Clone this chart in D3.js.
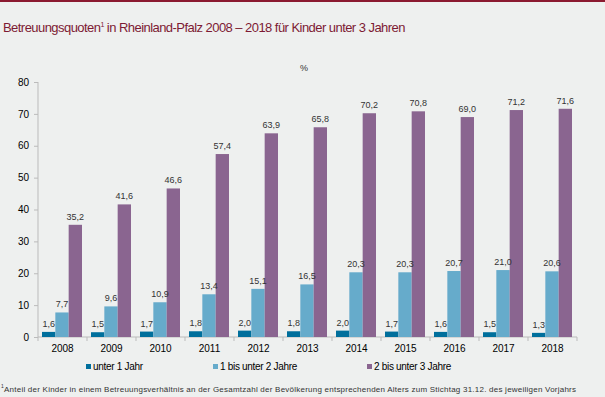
<!DOCTYPE html>
<html>
<head>
<meta charset="utf-8">
<script src="https://cdn.jsdelivr.net/npm/d3@7"></script>
<style>
  body { margin: 0; background: #eef0ef; }
  svg { display: block; font-family: "Liberation Sans", Arial, sans-serif; }
  .tick text { font-size: 10px; fill: #000; }
  .val { font-size: 9px; fill: #333; text-anchor: middle; }
</style>
</head>
<body>
<svg id="chart" width="605" height="397"></svg>
<script>
var years = ["2008","2009","2010","2011","2012","2013","2014","2015","2016","2017","2018"];
var series = ["unter 1 Jahr", "1 bis unter 2 Jahre", "2 bis unter 3 Jahre"];
var under1 = [1.6, 1.5, 1.7, 1.8, 2.0, 1.8, 2.0, 1.7, 1.6, 1.5, 1.3];
var one2two = [7.7, 9.6, 10.9, 13.4, 15.1, 16.5, 20.3, 20.3, 20.7, 21.0, 20.6];
var two2three = [35.2, 41.6, 46.6, 57.4, 63.9, 65.8, 70.2, 70.8, 69.0, 71.2, 71.6];
var yTicks = [0, 10, 20, 30, 40, 50, 60, 70, 80];
var colors = ["#006f9c", "#66abcb", "#8a6590"];

var svg = d3.select("#chart");
var fmt = function(v) { return d3.format(".1f")(v).replace(".", ","); };

// top strip
svg.append("rect").attr("x", 0).attr("y", 0).attr("width", 605).attr("height", 2).style("fill", "#8b1a30");

svg.append("text")
    .attr("x", 3)
    .attr("y", 32)
    .style("font-size", "13px")
    .style("fill", "#7d1a33")
    .style("letter-spacing", "-0.55px")
    .html("Betreuungsquoten<tspan dy='-5' style='font-size:7px'>1</tspan><tspan dy='5'> in Rheinland-Pfalz 2008 – 2018 für Kinder unter 3 Jahren</tspan>");

var x0 = d3.scaleBand().domain(years).range([38, 577]).padding(0);
var x1 = d3.scaleBand().domain(series).range([4, 44]).padding(0);
var y = d3.scaleLinear().domain([0, 80]).range([337, 82]);

var table = years.map(function(yr, i) {
  return {year: yr, values: [under1[i], one2two[i], two2three[i]]};
});

// y axis
var yAxis = svg.append("g")
    .attr("transform", "translate(38,0)")
    .call(d3.axisLeft(y).tickValues(yTicks).tickSize(4).tickPadding(5));
yAxis.select(".domain").style("stroke", "#bbb").attr("d", "M0," + y(80) + "V" + y(0));
yAxis.selectAll(".tick line").style("stroke", "#bbb");

// x axis
var xAxis = svg.append("g")
    .attr("transform", "translate(0,337)")
    .call(d3.axisBottom(x0).tickSize(0).tickPadding(8));
xAxis.select(".domain").style("stroke", "#bbb").attr("d", "M38,0H577");
xAxis.selectAll(".sep")
    .data(years.concat(["end"]))
    .enter()
    .append("line")
    .attr("x1", function(d, i) { return 38 + i * x0.bandwidth(); })
    .attr("x2", function(d, i) { return 38 + i * x0.bandwidth(); })
    .attr("y1", 0)
    .attr("y2", 4)
    .style("stroke", "#bbb");

svg.append("text")
    .attr("x", 304)
    .attr("y", 71)
    .style("font-size", "9px")
    .style("fill", "#333")
    .style("text-anchor", "middle")
    .text("%");

var groups = svg.selectAll(".grp")
    .data(table)
    .enter()
    .append("g")
    .attr("transform", function(d) { return "translate(" + x0(d.year) + ",0)"; });

groups.selectAll("rect")
    .data(function(d) { return d.values; })
    .enter()
    .append("rect")
    .attr("x", function(d, i) { return x1(series[i]); })
    .attr("width", x1.bandwidth())
    .attr("y", function(d) { return y(d); })
    .attr("height", function(d) { return y(0) - y(d); })
    .style("fill", function(d, i) { return colors[i]; });

groups.selectAll(".val")
    .data(function(d) { return d.values; })
    .enter()
    .append("text")
    .attr("class", "val")
    .attr("x", function(d, i) { return x1(series[i]) + x1.bandwidth() / 2; })
    .attr("y", function(d) { return y(d) - 5; })
    .text(function(d) { return fmt(d); });

// legend
var legX = [86, 213, 367];
var leg = svg.selectAll(".leg")
    .data(series)
    .enter()
    .append("g")
    .attr("transform", function(d, i) { return "translate(" + legX[i] + ",371)"; });
leg.append("rect")
    .attr("x", 0).attr("y", -7).attr("width", 5).attr("height", 5)
    .style("fill", function(d, i) { return colors[i]; });
leg.append("text")
    .attr("x", 7)
    .attr("y", -1)
    .style("font-size", "10px")
    .style("letter-spacing", "-0.3px")
    .style("fill", "#000")
    .text(function(d) { return d; });

svg.append("text")
    .attr("x", 4)
    .attr("y", 392)
    .attr("textLength", 572)
    .attr("lengthAdjust", "spacing")
    .style("font-size", "8px")
    .style("fill", "#333")
    .text("Anteil der Kinder in einem Betreuungsverhältnis  an der Gesamtzahl der Bevölkerung  entsprechenden  Alters zum Stichtag 31.12.  des jeweiligen  Vorjahrs");
svg.append("text")
    .attr("x", 1)
    .attr("y", 388)
    .style("font-size", "5px")
    .style("fill", "#333")
    .text("1");
</script>
</body>
</html>
